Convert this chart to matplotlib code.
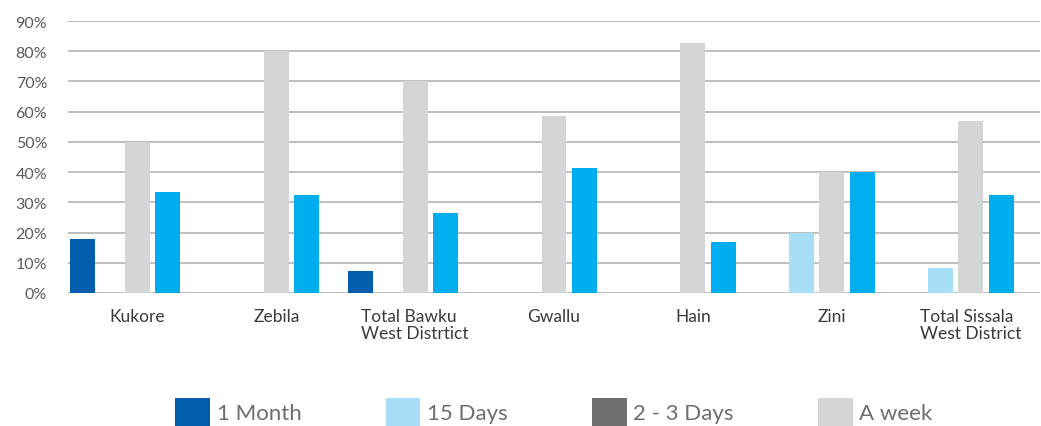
import matplotlib
matplotlib.use("Agg")
import matplotlib.pyplot as plt
from matplotlib.patches import Patch
import numpy as np

categories = ["Kukore", "Zebila", "Total Bawku\nWest Distrtict", "Gwallu",
              "Hain", "Zini", "Total Sissala\nWest District"]
series_names = ["1 Month", "15 Days", "2 - 3 Days", "A week"]
one_month = [18.0, 0, 7.3, 0, 0, 0, 0]
fifteen_days = [0, 0, 0, 0, 0, 20.0, 8.3]
two_three_days = [0, 0, 0, 0, 0, 0, 0]
a_week = [50.0, 80.0, 70.0, 58.5, 82.7, 40.0, 57.0]
unlabeled = [33.5, 32.4, 26.5, 41.4, 17.0, 40.0, 32.4]
y_ticks = [0, 10, 20, 30, 40, 50, 60, 70, 80, 90]

c_month = "#005EAC"
c_15 = "#A7DEF8"
c_23 = "#6D6E71"
c_week = "#D4D5D7"
c_unl = "#00ADEE"

plt.rcParams['font.family'] = ['Lato', 'DejaVu Sans']

fig = plt.figure(figsize=(10.41, 4.27), dpi=100)
ax = fig.add_axes([68/1041, 1-294/427, (1040-68)/1041, (294-22)/427])

x = np.arange(len(categories))
step = 0.22
width = 0.18
slots = [-1.8, -1.0, 0.0, 1.0]
drawn = [(one_month, c_month), (fifteen_days, c_15), (a_week, c_week), (unlabeled, c_unl)]
for slot, (vals, col) in zip(slots, drawn):
    off = slot * step
    v = np.array(vals, dtype=float)
    mask = v > 0
    ax.bar(x[mask] + off, v[mask], width=width, color=col, zorder=3, linewidth=0)

ax.set_xlim(-0.5, len(categories) - 0.5)
ax.set_ylim(0, 90)
ax.set_yticks(y_ticks)
ax.set_yticklabels([f"{t}%" for t in y_ticks])
ax.yaxis.grid(True, color="#BFBFBF", linewidth=1.4, zorder=0)
ax.set_axisbelow(True)
for s in ax.spines.values():
    s.set_visible(False)
ax.tick_params(axis="y", length=0, pad=15, labelsize=11.5, labelcolor="#5A5A5A")
ax.tick_params(axis="x", length=0, pad=11, labelsize=12.5, labelcolor="#3A3A3A")
ax.set_xticks(x)
ax.set_xticklabels(categories, multialignment="left", linespacing=1.05)

handles = [Patch(facecolor=c, edgecolor="none") for c in (c_month, c_15, c_23, c_week)]
leg = fig.legend(handles, series_names, loc="upper center",
                 bbox_to_anchor=(554/1041, 1-399/427), ncol=4, frameon=False,
                 fontsize=16, handlelength=1.55, handleheight=1.55,
                 handletextpad=0.3, columnspacing=3.8, borderpad=0, borderaxespad=0)
for t in leg.get_texts():
    t.set_color("#6E6E6E")

fig.savefig("out.png", dpi=100)
